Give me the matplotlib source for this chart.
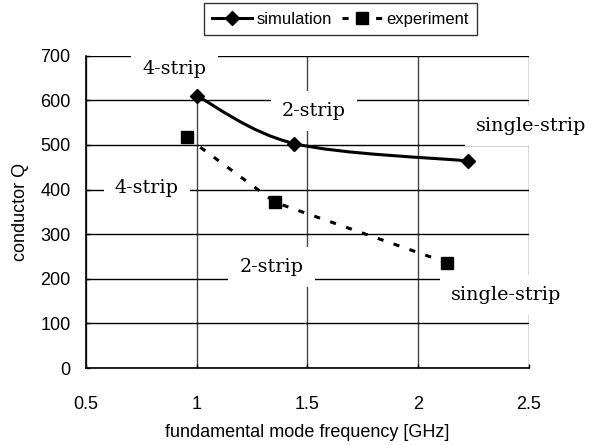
import matplotlib.pyplot as plt
from matplotlib.path import Path
from matplotlib.patches import PathPatch
from matplotlib.lines import Line2D

# data
sim_freq = [1.0, 1.44, 2.225]
sim_q = [610, 503, 464]
exp_freq = [0.955, 1.355, 2.13]
exp_q = [517, 371, 236]
sim_labels = ["4-strip", "2-strip", "single-strip"]
exp_labels = ["4-strip", "2-strip", "single-strip"]

plt.rcParams['font.family'] = ['Liberation Sans', 'DejaVu Sans']

fig = plt.figure(figsize=(5.89, 4.45), dpi=100)
ax = fig.add_axes([0.146, 0.173, 0.752, 0.702])

ax.set_xlim(0.5, 2.5)
ax.set_ylim(0, 700)
ax.set_xticks([0.5, 1, 1.5, 2, 2.5])
ax.set_xticklabels(["0.5", "1", "1.5", "2", "2.5"])
ax.set_yticks(range(0, 701, 100))
ax.tick_params(labelsize=13, direction='in', length=3, width=1)
ax.tick_params(axis='x', pad=20)
ax.tick_params(axis='y', pad=11)
ax.grid(axis='y', color='black', linewidth=1)
ax.grid(axis='x', color='#444444', linewidth=1)
ax.set_axisbelow(True)
for s in ['top', 'right']:
    ax.spines[s].set_visible(False)
for s in ['left', 'bottom']:
    ax.spines[s].set_linewidth(1.2)

ax.set_xlabel("fundamental mode frequency [GHz]", fontsize=13, labelpad=8)
ax.set_ylabel("conductor Q", fontsize=13, labelpad=8)


# smoothed curve (Excel-style) through the simulation points
def smooth_path(xs, ys, t=1/6):
    pts = list(zip(xs, ys))
    verts = [pts[0]]
    codes = [Path.MOVETO]
    for i in range(len(pts) - 1):
        p0 = pts[i - 1] if i > 0 else pts[i]
        p1 = pts[i]
        p2 = pts[i + 1]
        p3 = pts[i + 2] if i + 2 < len(pts) else pts[i + 1]
        c1 = (p1[0] + (p2[0] - p0[0]) * t, p1[1] + (p2[1] - p0[1]) * t)
        c2 = (p2[0] - (p3[0] - p1[0]) * t, p2[1] - (p3[1] - p1[1]) * t)
        verts += [c1, c2, p2]
        codes += [Path.CURVE4] * 3
    return Path(verts, codes)


ax.add_patch(PathPatch(smooth_path(sim_freq, sim_q), fill=False, lw=2.2,
                       color='black', zorder=4, clip_on=False))
ax.plot(sim_freq, sim_q, ls='none', marker='D', ms=7, color='black', zorder=5)
ax.plot(exp_freq, exp_q, ls=(0, (2, 3.5)), lw=2.2, color='black', zorder=4)
ax.plot(exp_freq, exp_q, ls='none', marker='s', ms=9, color='black', zorder=5)

box = dict(facecolor='white', edgecolor='none', pad=8)
lab_font = dict(family=['DejaVu Serif'], fontsize=13.8,
                ha='center', va='center', bbox=box, zorder=3, clip_on=False)
sim_lab_pos = [(0.90, 670), (1.53, 576), (2.51, 542)]
exp_lab_pos = [(0.775, 404), (1.338, 227), (2.396, 164)]
for txt, (x, y) in zip(sim_labels, sim_lab_pos):
    ax.text(x, y, txt, **lab_font)
for txt, (x, y) in zip(exp_labels, exp_lab_pos):
    ax.text(x, y, txt, **lab_font)

handles = [Line2D([], [], color='black', lw=2.2, marker='D', ms=7),
           Line2D([], [], color='black', lw=2.2, ls=(0, (2, 3.5)), marker='s', ms=8)]
leg = fig.legend(handles, ["simulation", "experiment"], loc='center',
                 bbox_to_anchor=(0.578, 0.957), ncol=2, fontsize=12,
                 frameon=True, fancybox=False, edgecolor='black',
                 handlelength=2.4, columnspacing=0.6, handletextpad=0.25,
                 borderpad=0.5, borderaxespad=0)
leg.get_frame().set_linewidth(1)

fig.savefig("out.png", dpi=100)
